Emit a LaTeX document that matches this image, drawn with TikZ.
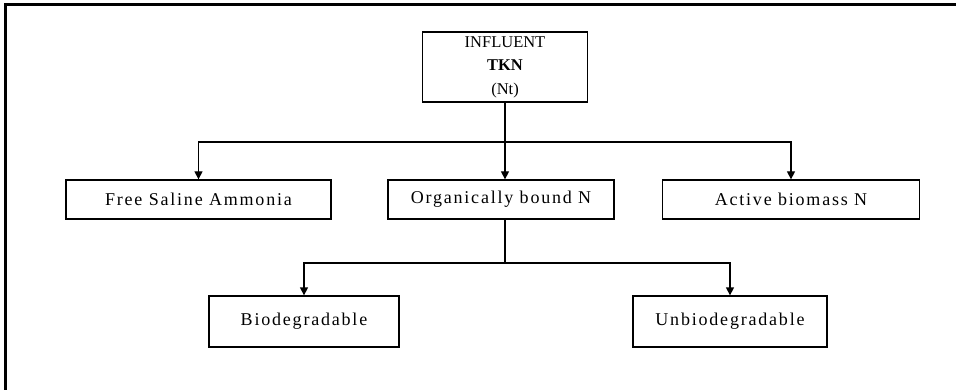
\documentclass[tikz,border=0pt]{standalone}
\usepackage{fontspec}
\setmainfont{Liberation Serif}
\newfontfamily\spacedfont[LetterSpace=10]{Liberation Serif}
\usetikzlibrary{arrows.meta}

\tikzset{
  nbox/.style={draw, line width=1.3, minimum height=39, inner sep=0pt,
    font=\spacedfont\fontsize{18}{21}\selectfont},
  lowbox/.style={nbox, minimum height=51},
  link/.style={line width=1.3, -{Triangle[width=8,length=8]}}
}

\begin{document}
\begin{tikzpicture}[x=1pt, y=-1pt]

\useasboundingbox
  (0,0) rectangle (956,390);

\draw[line width=3]
  (5,390) -- (5,5) -- (956,5);

\node[draw, line width=1.3, minimum width=165, minimum height=70,
  align=center, inner sep=0pt, font=\fontsize{16.5}{23.5}\selectfont]
  (infl) at (505,67) {INFLUENT\\\textbf{TKN}\\(Nt)};

\node[nbox, minimum width=265]
  (fsa) at (198.5,199.5) {Free Saline Ammonia};
\node[nbox, minimum width=226]
  (obn) at (501,199.5) {Organically bound N};
\node[nbox, minimum width=257]
  (abn) at (791,199.5) {Active biomass N};

\node[lowbox, minimum width=190]
  (bio) at (304,321.5) {Biodegradable};
\node[lowbox, minimum width=194]
  (unbio) at (730,321.5) {Unbiodegradable};

\draw[line width=1.3]
  (infl.south) -- (infl.south |- 0,142) coordinate (split);
\draw[link]
  (split) -| (fsa.north);
\draw[link]
  (split) -- (split |- obn.north);
\draw[link]
  (split) -| (abn.north);

\draw[line width=1.3]
  (split |- obn.south) -- (split |- 0,263) coordinate (split2);
\draw[link]
  (split2) -| (bio.north);
\draw[link]
  (split2) -| (unbio.north);

\end{tikzpicture}
\end{document}
